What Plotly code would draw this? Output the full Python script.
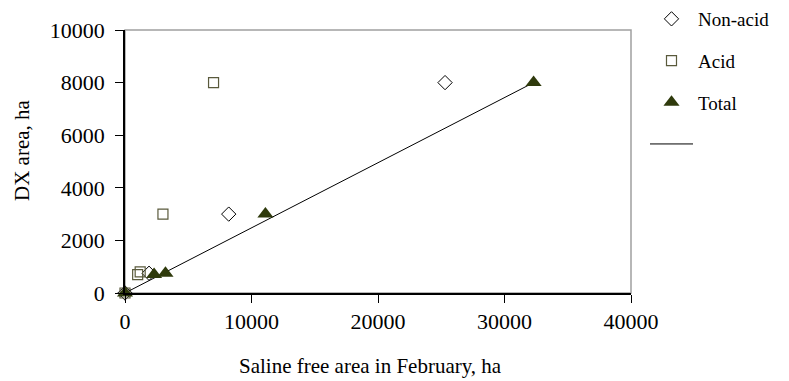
import plotly.graph_objects as go

# Data
nonacid_x = [0, 1900, 8200, 25300]
nonacid_y = [0, 750, 3000, 8000]
acid_x = [0, 1000, 1200, 3000, 7000]
acid_y = [0, 700, 800, 3000, 8000]
total_x = [0, 2300, 3200, 11100, 32300]
total_y = [0, 700, 750, 3000, 8000]
trend_x = [0, 32300]
trend_y = [0, 8000]

x_ticks = [0, 10000, 20000, 30000, 40000]
y_ticks = [0, 2000, 4000, 6000, 8000, 10000]

FONT = "Liberation Serif, Times New Roman, serif"

fig = go.Figure()
fig.add_trace(go.Scatter(
    x=nonacid_x, y=nonacid_y, mode="markers", name="Non-acid", legendgroup="a",
    marker=dict(symbol="diamond-open", size=11, color="black", line=dict(width=1)),
    cliponaxis=False))
fig.add_trace(go.Scatter(
    x=acid_x, y=acid_y, mode="markers", name="Acid", legendgroup="b",
    marker=dict(symbol="square-open", size=10, color="#5a5a3c", line=dict(width=1.2)),
    cliponaxis=False))
fig.add_trace(go.Scatter(
    x=trend_x, y=trend_y, mode="lines", name="", legendgroup="d", legendrank=2000,
    line=dict(color="black", width=1), cliponaxis=False))
fig.add_trace(go.Scatter(
    x=total_x, y=total_y, mode="markers", name="Total", legendgroup="c", legendrank=1500,
    marker=dict(symbol="triangle-up", size=14, color="#2f3a0c", line=dict(width=0)),
    cliponaxis=False))

fig.update_layout(
    width=789, height=381,
    margin=dict(l=125, r=158, t=30, b=88, autoexpand=False),
    paper_bgcolor="white", plot_bgcolor="white",
    font=dict(family=FONT, size=21, color="black"),
    showlegend=True,
    legend=dict(xref="container", yref="container", x=645/789, y=1.0,
                xanchor="left", yanchor="top",
                font=dict(family=FONT, size=19, color="black"),
                tracegroupgap=14, itemwidth=43, bgcolor="rgba(0,0,0,0)"),
    shapes=[dict(type="rect", xref="paper", yref="paper", x0=0, y0=0, x1=1, y1=1,
                 line=dict(color="#a0a0a0", width=1.5), layer="below")],
)
fig.update_xaxes(range=[0, 40000], tickvals=x_ticks, ticktext=[str(v) for v in x_ticks],
                 showgrid=False, zeroline=False, showline=True, linecolor="black", linewidth=1.5,
                 ticks="outside", ticklen=8, tickcolor="black", tickfont=dict(size=22))
fig.update_yaxes(range=[0, 10000], tickvals=y_ticks, ticktext=[str(v) for v in y_ticks],
                 showgrid=False, zeroline=False, showline=True, linecolor="black", linewidth=1.5,
                 ticks="outside", ticklen=8, tickcolor="black", tickfont=dict(size=22),
                 ticklabelstandoff=6)
fig.add_annotation(text="Saline free area in February, ha", xref="paper", yref="paper",
                   x=(370-125)/506, y=-(366-293)/263, showarrow=False,
                   xanchor="center", yanchor="middle", font=dict(size=21))
fig.add_annotation(text="DX area, ha", xref="paper", yref="paper",
                   x=-(125-22)/506, y=(293-150)/263, showarrow=False, textangle=-90,
                   xanchor="center", yanchor="middle", font=dict(size=21))

fig.write_html("out.html")
